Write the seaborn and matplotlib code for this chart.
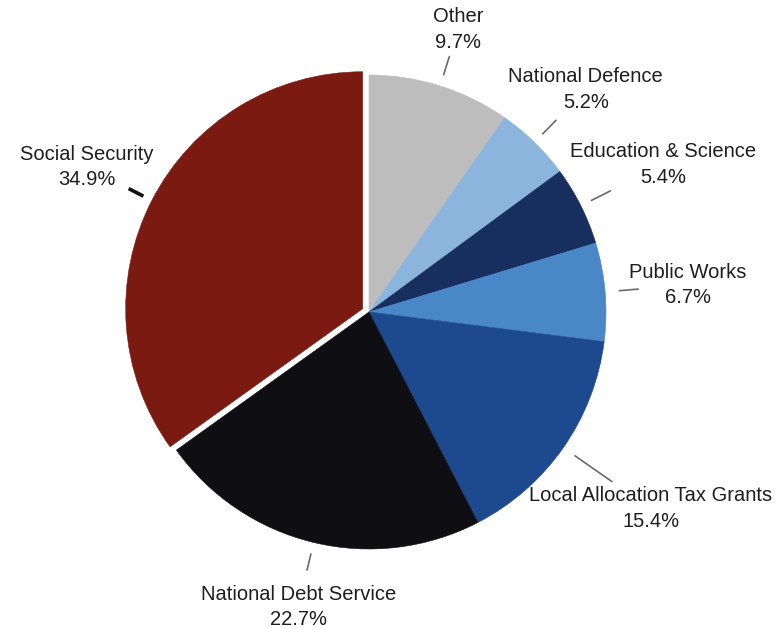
import numpy as np
import matplotlib
matplotlib.use("Agg")
import matplotlib.pyplot as plt
import seaborn as sns

# Budget expenditure shares (%), clockwise from 12 o'clock
categories = ["Other", "National Defence", "Education & Science", "Public Works",
              "Local Allocation Tax Grants", "National Debt Service", "Social Security"]
shares = [9.7, 5.2, 5.4, 6.7, 15.4, 22.7, 34.9]
slice_colors = ["#bdbdbd", "#8bb5dd", "#172f5e", "#4a87c7", "#1d4a8f", "#0f0f13", "#7b1a10"]

sns.set_theme(style="white")
plt.rcParams["font.family"] = ["Liberation Sans", "DejaVu Sans"]

W, H = 778, 629
fig = plt.figure(figsize=(W / 100, H / 100), dpi=100)
ax = fig.add_axes([0, 0, 1, 1])
ax.set_xlim(0, W)
ax.set_ylim(0, H)
ax.set_aspect("equal")
ax.axis("off")

cx, cy, R = 369, H - 312, 237
explode_frac = [0, 0, 0, 0, 0, 0, 0.03]

# matplotlib's explode offset is in data units, so scale by the radius
wedges, _ = ax.pie(shares, colors=slice_colors, startangle=90, counterclock=False,
                   center=(cx, cy), radius=R, explode=[e * R for e in explode_frac],
                   wedgeprops=dict(linewidth=0))
for w in wedges:
    w.set_edgecolor(w.get_facecolor())
    w.set_linewidth(0.4)
ax.set_xlim(0, W)
ax.set_ylim(0, H)

# per-label leader line span and text distance (as fractions of the radius)
line_span = [(1.05, 1.13), (1.05, 1.13), (1.05, 1.14), (1.06, 1.14),
             (1.06, 1.25), (1.05, 1.12), (1.04, 1.11)]
text_dist = [1.25, 1.31, 1.39, 1.35, 1.45, 1.28, 1.34]

for w, name, val, (a, b), td, ex in zip(wedges, categories, shares, line_span, text_dist, explode_frac):
    mid = np.deg2rad((w.theta1 + w.theta2) / 2)
    ux, uy = np.cos(mid), np.sin(mid)
    ox, oy = cx + ex * R * ux, cy + ex * R * uy
    if name == "Social Security":
        ax.plot([ox + a * R * ux, ox + b * R * ux], [oy + a * R * uy, oy + b * R * uy],
                color="#111111", lw=2.6, solid_capstyle="butt")
    else:
        ax.plot([ox + a * R * ux, ox + b * R * ux], [oy + a * R * uy, oy + b * R * uy],
                color="#6a6a6a", lw=1.2)
    ax.text(cx + td * R * ux, cy + td * R * uy, f"{name}\n{val:.1f}%",
            ha="center", va="center", fontsize=14.5, color="#1e1e1e", linespacing=1.45)

fig.savefig("out.png", dpi=100, facecolor="white")
